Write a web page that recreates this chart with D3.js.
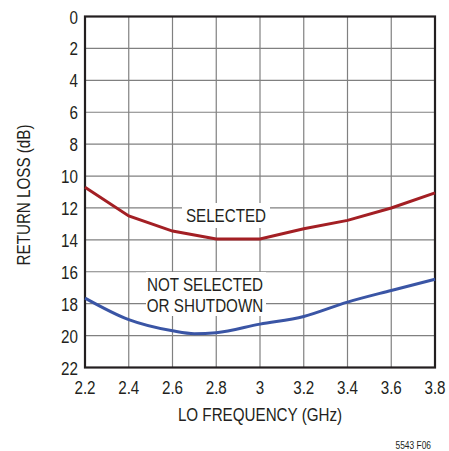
<!DOCTYPE html>
<meta charset="utf-8">
<style>
  body { margin: 0; background: #fff; }
  text { font-family: "Liberation Sans", Arial, sans-serif; fill: #231f20; }
</style>
<svg width="449" height="451"></svg>
<script src="https://d3js.org/d3.v7.min.js"></script>
<script>
// data
var freq = [2.2, 2.4, 2.6, 2.8, 3.0, 3.2, 3.4, 3.6, 3.8]
var selected = [10.7, 12.5, 13.45, 13.95, 13.95, 13.3, 12.78, 12.0, 11.05]
var notSelFreq = [2.2, 2.4, 2.6, 2.7, 2.8, 3.0, 3.2, 3.4, 3.6, 3.8]
var notSelected = [17.65, 19.0, 19.7, 19.88, 19.82, 19.28, 18.8, 17.9, 17.17, 16.47]
var xTicks = [2.2, 2.4, 2.6, 2.8, 3.0, 3.2, 3.4, 3.6, 3.8]
var yTicks = [0, 2, 4, 6, 8, 10, 12, 14, 16, 18, 20, 22]

var pLeft = 85, pTop = 16.5, pRight = 435, pBottom = 367.5
var squeeze = 0.8  // condensed look

var svg = d3.select('svg')

var x = d3.scaleLinear().domain([2.2, 3.8]).range([pLeft, pRight])
var y = d3.scaleLinear().domain([0, 22]).range([pTop, pBottom])

// text helper: narrow the glyphs around the anchor point
function label(g, tx, ty, str, size, anchor, rot) {
  return g.append('text')
    .attr('transform', 'translate(' + tx + ',' + ty + ')' + (rot ? ' rotate(' + rot + ')' : '') + ' scale(' + squeeze + ',1)')
    .attr('text-anchor', anchor).attr('font-size', size)
    .text(str)
}

// grid
svg.append('g').selectAll('line')
  .data(xTicks.slice(1, -1))
  .enter().append('line')
    .attr('x1', function (d) { return x(d) }).attr('x2', function (d) { return x(d) })
    .attr('y1', pTop).attr('y2', pBottom)
    .attr('stroke', '#808080').attr('stroke-width', 1.2)
svg.append('g').selectAll('line')
  .data(yTicks.slice(1, -1))
  .enter().append('line')
    .attr('y1', function (d) { return y(d) }).attr('y2', function (d) { return y(d) })
    .attr('x1', pLeft).attr('x2', pRight)
    .attr('stroke', '#808080').attr('stroke-width', 1.2)

// label backgrounds hide the grid
svg.append('rect').attr('x', 182).attr('y', 203).attr('width', 88).attr('height', 25).attr('fill', '#fff')
svg.append('rect').attr('x', 146).attr('y', 272).attr('width', 120).attr('height', 44).attr('fill', '#fff')

// frame
svg.append('rect')
  .attr('x', pLeft).attr('y', pTop).attr('width', pRight - pLeft).attr('height', pBottom - pTop)
  .attr('fill', 'none').attr('stroke', '#231f20').attr('stroke-width', 2.2)

// curves
var line1 = d3.line()
  .x(function (d, i) { return x(freq[i]) })
  .y(function (d) { return y(d) })
svg.append('path').datum(selected)
  .attr('d', line1)
  .attr('fill', 'none').attr('stroke', '#a31f24').attr('stroke-width', 3)

var line2 = d3.line()
  .x(function (d, i) { return x(notSelFreq[i]) })
  .y(function (d) { return y(d) })
  .curve(d3.curveMonotoneX)
svg.append('path').datum(notSelected)
  .attr('d', line2)
  .attr('fill', 'none').attr('stroke', '#3a55a5').attr('stroke-width', 3)

// tick labels
var yg = svg.append('g')
yTicks.forEach(function (d) { label(yg, pLeft - 7, y(d) + 7, d, 19, 'end') })
var xg = svg.append('g')
xTicks.forEach(function (d) { label(xg, x(d), pBottom + 26, d3.format('~g')(d), 19, 'middle') })

// axis titles
label(svg, 30, 195, 'RETURN LOSS (dB)', 19, 'middle', -90)
label(svg, 260, 421, 'LO FREQUENCY (GHz)', 19, 'middle')

// curve labels
label(svg, 226, 222, 'SELECTED', 19, 'middle')
label(svg, 205, 291, 'NOT SELECTED', 19, 'middle')
label(svg, 205, 312, 'OR SHUTDOWN', 19, 'middle')

label(svg, 431, 449, '5543 F06', 10.5, 'end')
</script>
